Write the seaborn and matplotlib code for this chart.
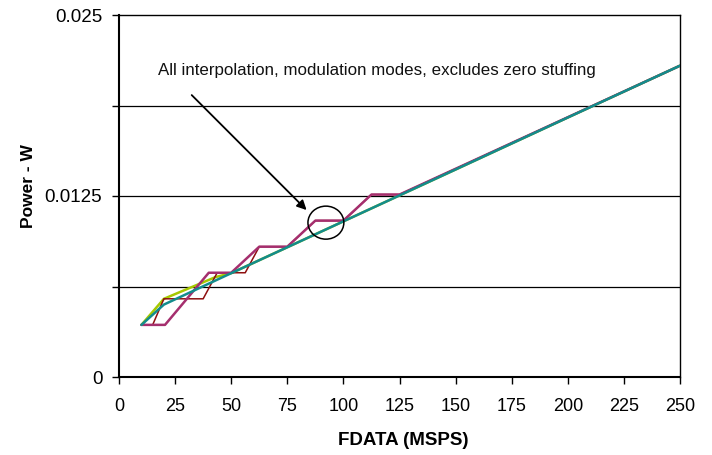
import matplotlib
matplotlib.use("Agg")
import matplotlib.pyplot as plt
from matplotlib.patches import Ellipse
import seaborn as sns
import pandas as pd

# ---- data ----
teal_x = [10, 20, 50, 100, 150, 200, 250]
teal_y = [0.0036, 0.0050, 0.00717, 0.01075, 0.01433, 0.01792, 0.0215]

green_x = [10, 20, 43, 50, 100, 150, 200, 250]
green_y = [0.0036, 0.0054, 0.0069, 0.00717, 0.01075, 0.01433, 0.01792, 0.0215]

magenta_x = [10, 20.5, 40, 50, 62.5, 75, 87.5, 100, 112.5, 125, 250]
magenta_y = [0.0036, 0.0036, 0.0072, 0.0072, 0.0090, 0.0090, 0.0108, 0.0108,
             0.0126, 0.0126, 0.0215]

darkred_x = [10, 15, 20, 37.5, 43.75, 56.25, 62.5, 75, 87.5, 100, 112.5, 125, 250]
darkred_y = [0.0036, 0.0036, 0.0054, 0.0054, 0.0072, 0.0072, 0.0090, 0.0090,
             0.0108, 0.0108, 0.0126, 0.0126, 0.0215]

x_ticks = [0, 25, 50, 75, 100, 125, 150, 175, 200, 225, 250]
y_major = [0, 0.0125, 0.025]
y_major_labels = ["0", "0.0125", "0.025"]
y_minor = [0.00625, 0.01875]

annotation = "All interpolation, modulation modes, excludes zero stuffing"
x_title = "FDATA (MSPS)"
y_title = "Power - W"

sns.set_theme(style="white")
plt.rcParams["font.family"] = ["Liberation Sans", "DejaVu Sans"]
plt.rcParams["text.color"] = "black"
plt.rcParams["axes.labelcolor"] = "black"
plt.rcParams["xtick.color"] = "black"
plt.rcParams["ytick.color"] = "black"

fig = plt.figure(figsize=(7.12, 4.55), dpi=100)
ax = fig.add_axes([119 / 712, 78 / 455, 561 / 712, 362 / 455])

series = [
    (green_x, green_y, "#a6c800", 1.8),
    (darkred_x, darkred_y, "#8e0f0f", 1.1),
    (magenta_x, magenta_y, "#a52f6e", 1.8),
    (teal_x, teal_y, "#138c8c", 1.8),
]
for xs, ys, col, lw in series:
    df = pd.DataFrame({"x": xs, "y": ys})
    sns.lineplot(data=df, x="x", y="y", ax=ax, color=col, linewidth=lw,
                 sort=False, estimator=None, zorder=3)

ax.set_xlim(0, 250)
ax.set_ylim(0, 0.025)
ax.set_xticks(x_ticks)
ax.set_xticklabels([str(t) for t in x_ticks], fontsize=13)
ax.set_yticks(y_major)
ax.set_yticklabels(y_major_labels, fontsize=13.5)
ax.set_yticks(y_minor, minor=True)

for yv in y_minor + [0.0125]:
    ax.axhline(yv, color="black", linewidth=0.9, zorder=1)

ax.tick_params(axis="both", which="both", direction="out", length=5,
               width=1, color="black", left=True, bottom=True)
ax.tick_params(axis="x", which="major", pad=10)
ax.tick_params(axis="y", which="major", pad=7)

for side in ["top", "right"]:
    ax.spines[side].set_linewidth(1.0)
    ax.spines[side].set_color("black")
for side in ["left", "bottom"]:
    ax.spines[side].set_linewidth(1.5)
    ax.spines[side].set_color("black")

ax.set_xlabel(x_title, fontsize=13.5, fontweight="bold")
ax.set_ylabel(y_title, fontsize=12.5, fontweight="bold")
ax.xaxis.set_label_coords(0.506, -0.152)
ax.yaxis.set_label_coords(-0.148, 0.528)

ax.text(17.5, 0.0212, annotation, fontsize=12.2, va="center", ha="left",
        color="#111111")
ax.annotate("", xy=(83.6, 0.01153), xytext=(32.4, 0.01947),
            arrowprops=dict(arrowstyle="-|>", color="black", lw=1.3,
                            mutation_scale=14, shrinkA=0, shrinkB=0))
ax.add_patch(Ellipse((92.2, 0.01066), 16.0, 0.00228, fill=False,
                     edgecolor="black", linewidth=1.1, zorder=4))

fig.savefig("out.png", dpi=100)
